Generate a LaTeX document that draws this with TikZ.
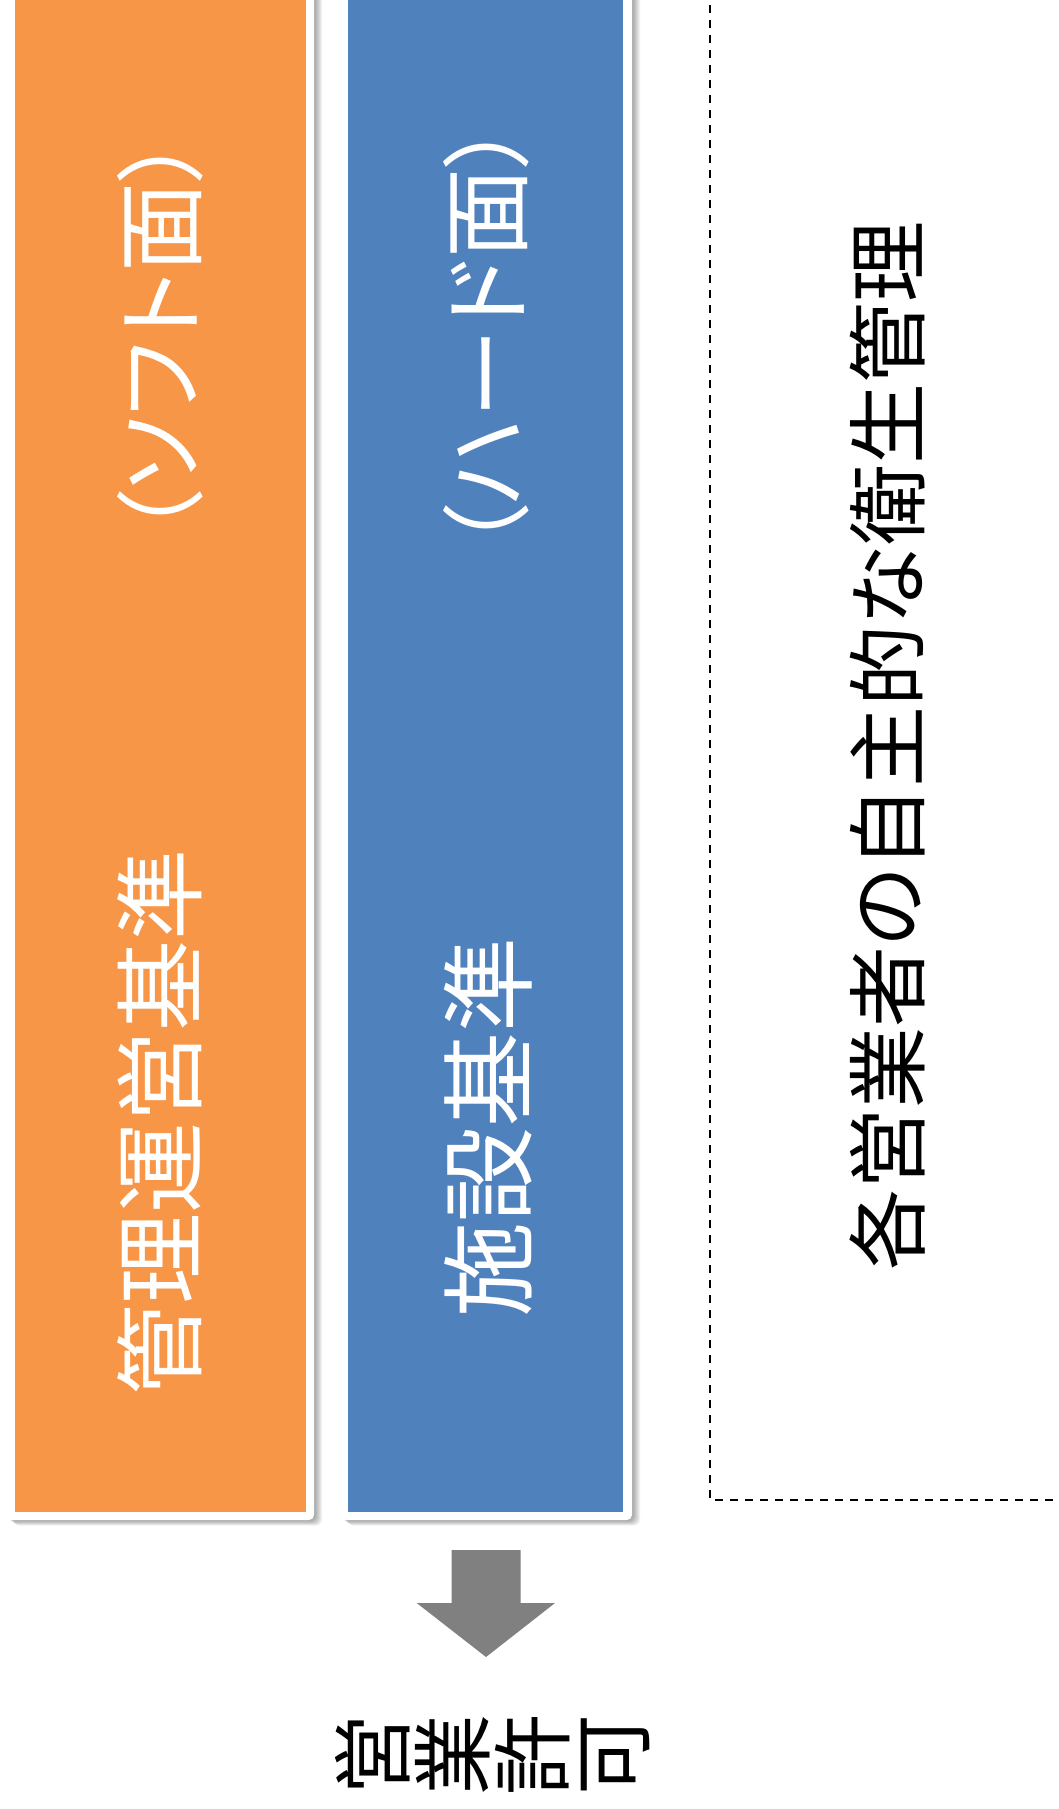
\documentclass[tikz,border=0pt]{standalone}
\usepackage{fontspec}
\newfontfamily\jp{Noto Sans CJK JP}
\newfontfamily\jpp[RawFeature=+palt]{Noto Sans CJK JP}
\definecolor{boxorange}{RGB}{247,150,70}
\definecolor{boxblue}{RGB}{79,129,189}
\definecolor{arrowgray}{RGB}{128,128,128}
\begin{document}
\begin{tikzpicture}[x=1pt,y=-1pt,
  framebox/.style={fill=white, rounded corners=5pt},
  shadowlayer/.style={fill=black, opacity=0.05, rounded corners=6pt},
  coltext/.style={text=white, font=\jp\fontsize{91}{91}\selectfont, rotate=90, inner sep=0pt},
  partext/.style={text=white, font=\jpp\fontsize{90}{90}\selectfont, rotate=90, inner sep=0pt},
  sidetext/.style={text=black, font=\jpp\fontsize{81}{81}\selectfont, rotate=90, inner sep=0pt},
  bottomtext/.style={text=black, font=\jp\fontsize{81}{80}\selectfont, rotate=90, inner sep=0pt, align=center}]
\useasboundingbox (0,0) rectangle (1059,1809);
% shadows
\foreach \d in {1,...,8} {
  \fill[shadowlayer] (6+\d,-20) rectangle (314+\d,1520+0.7*\d);
  \fill[shadowlayer] (340+\d,-20) rectangle (632+\d,1520+0.7*\d);
}
% white frames
\fill[framebox] (6,-20) rectangle (314,1520);
\fill[framebox] (340,-20) rectangle (632,1520);
% coloured columns
\fill[boxorange] (15,-20) rectangle (306,1512);
\fill[boxblue] (348,-20) rectangle (623,1512);
% dashed frame
\draw[dash pattern=on 8pt off 7pt, line width=2pt] (710,-10) -- (710,1500) -- (1070,1500);
% arrow
\fill[arrowgray] (451.7,1550) -- (520.7,1550) -- (520.7,1603) -- (555,1603) -- (486,1657) -- (416.7,1603) -- (451.7,1603) -- cycle;
% texts
\node[partext] (soft) at (160,336.5) {（ソフト面）};
\node[coltext] (kanri) at (160,1122) {管理運営基準};
\node[partext] (hard) at (486,336.5) {（ハード面）};
\node[coltext, font=\jp\fontsize{95}{95}\selectfont] (shisetsu) at (488,1127) {施設基準};
\node[sidetext] (jishu) at (888,746) {各営業者の自主的な衛生管理};
\node[bottomtext] (kyoka) at (493,1755) {営\\業\\許\\可};
\end{tikzpicture}
\end{document}
